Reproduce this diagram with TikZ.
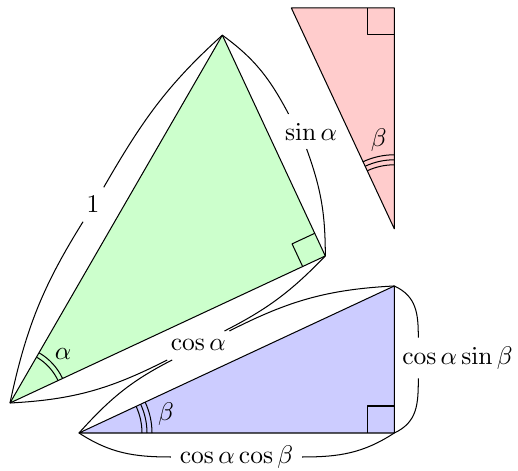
\documentclass[tikz,border=0pt]{standalone}
\usetikzlibrary{calc}
\begin{document}
\begin{tikzpicture}[x=0.3922pt,y=0.3922pt,line join=round]
\useasboundingbox (0,0) rectangle (518,-471);
% vertices
\coordinate (A) at (10,-403);
\coordinate (B) at ($(A)+(60:424.7)$);
\coordinate (C) at ($(A)+(25:347.9)$);
\coordinate (D) at (79,-433);
\coordinate (E) at ($(D)+(25:347.9)$);
\coordinate (F) at ($(D)+(315.3,0)$);
\coordinate (G) at (394.3,-8);
\coordinate (H) at ($(G)+(-102.95,0)$);
\coordinate (I) at ($(G)+(0,-220.8)$);
% triangles
\filldraw[fill=green!20] (A) -- (B) -- (C) -- cycle;
\filldraw[fill=blue!20] (D) -- (E) -- (F) -- cycle;
\filldraw[fill=red!20] (G) -- (H) -- (I) -- cycle;
% right angle marks
\draw ($(C)+(205:25)$) -- ++(115:25) -- ($(C)+(115:25)$);
\draw ($(F)+(180:27)$) -- ++(90:27) -- ($(F)+(90:27)$);
\draw ($(G)+(180:27)$) -- ++(270:27) -- ($(G)+(270:27)$);
% angle marks
\draw ($(A)+(25:53)$) arc[start angle=25,end angle=60,radius=53];
\draw ($(A)+(25:58)$) arc[start angle=25,end angle=60,radius=58];
\draw ($(D)+(0:63)$) arc[start angle=0,end angle=25,radius=63];
\draw ($(D)+(0:68)$) arc[start angle=0,end angle=25,radius=68];
\draw ($(D)+(0:73)$) arc[start angle=0,end angle=25,radius=73];
\draw ($(I)+(90:64)$) arc[start angle=90,end angle=115,radius=64];
\draw ($(I)+(90:69)$) arc[start angle=90,end angle=115,radius=69];
\draw ($(I)+(90:74)$) arc[start angle=90,end angle=115,radius=74];
\node (la) at ($(A)+(42.5:72)$) {$\alpha$};
\node (lbb) at ($(D)+(12.5:89)$) {$\beta$};
\node (lbr) at ($(I)+(100:90)$) {$\beta$};
% side labels
\node (l1) at (93,-204.5) {$1$};
\node (l2) at (311,-131.5) {$\sin\alpha$};
\node (l3) at (198.3,-345.5) {$\cos\alpha$};
\node (l4) at (457.5,-358) {$\cos\alpha\sin\beta$};
\node (l5) at (236.5,-457) {$\cos\alpha\cos\beta$};
% length curves
\draw (A) to[out=78,in=238] (l1.240);
\draw (l1.58) to[out=60,in=222] (B);
\draw (B) to[out=-36,in=118] (l2.142);
\draw (l2.256) to[out=-70,in=90] (C);
\draw (A) to[out=3,in=207] (l3.205);
\draw (l3.29) to[out=27,in=226] (C);
\draw (D) to[out=48,in=207] (l3.209);
\draw (l3.25) to[out=27,in=183] (E);
\draw (E) to[out=-25,in=90,looseness=1.1] ($(l4.north west)+(25,0)$);
\draw ($(l4.south west)+(25,0)$) to[out=-90,in=25,looseness=1.1] (F);
\draw (D) to[out=-33,in=180] (l5.west);
\draw (l5.east) to[out=0,in=213] (F);
\end{tikzpicture}
\end{document}
